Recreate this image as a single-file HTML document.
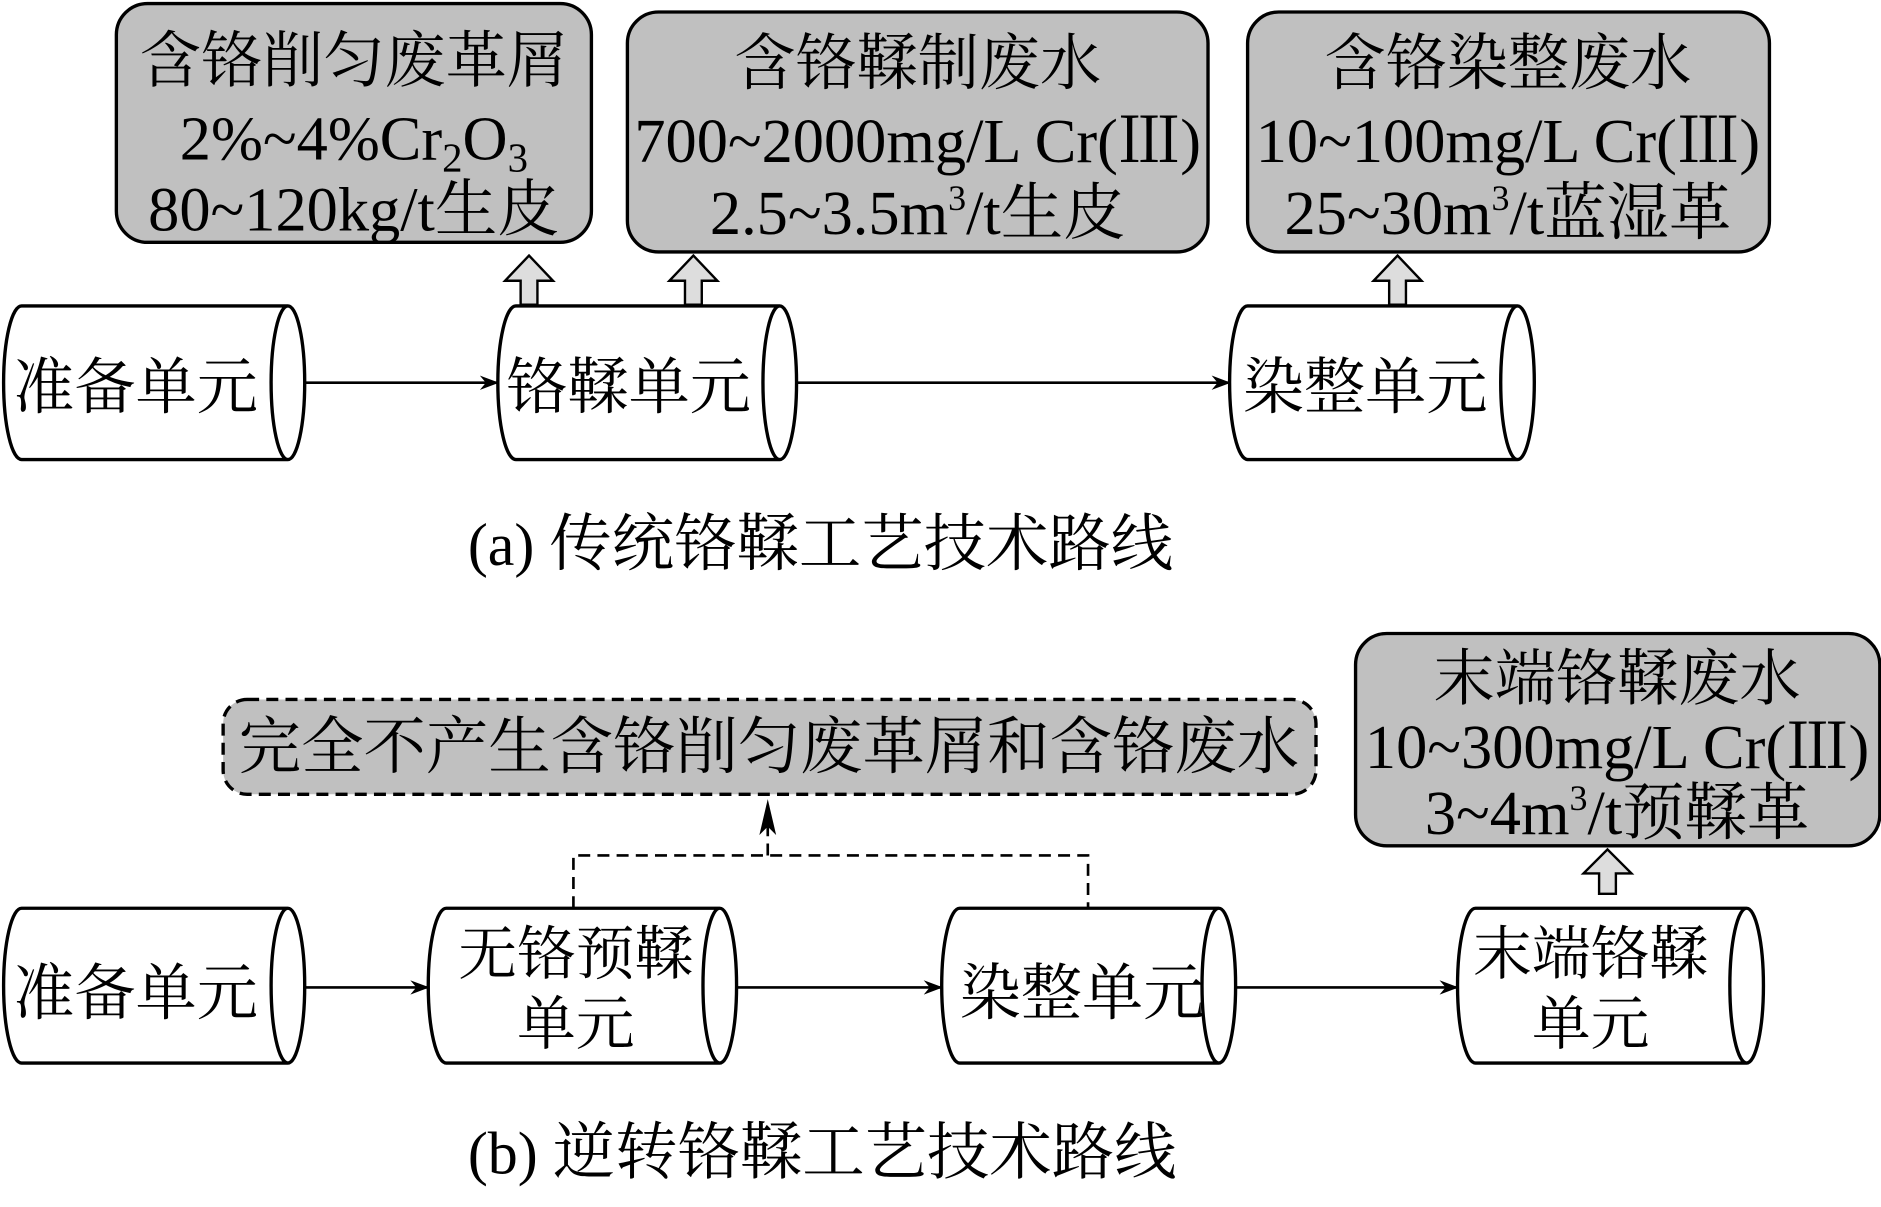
<!DOCTYPE html>
<html><head><meta charset="utf-8"><style>
html,body{margin:0;padding:0;background:#fff;}
svg{display:block;}
text{font-family:"Liberation Serif","Noto Serif CJK SC","Noto Sans CJK SC",serif;fill:#000;}
</style></head><body>
<svg width="1881" height="1207" viewBox="0 0 1568 1006" preserveAspectRatio="none" xmlns="http://www.w3.org/2000/svg">
<defs>
<marker id="ah" markerWidth="16" markerHeight="12" refX="15" refY="6" orient="auto" markerUnits="userSpaceOnUse">
<path d="M0,0 L16,6 L0,12 L5,6 Z" fill="#000"/>
</marker>
<marker id="ah2" markerWidth="30" markerHeight="16" refX="29" refY="8" orient="auto" markerUnits="userSpaceOnUse">
<path d="M0,1 L30,8 L0,15 L7,8 Z" fill="#000"/>
</marker>
</defs>
<g stroke="#000" stroke-width="2.8">
<rect x="97" y="3" width="396" height="199" rx="26" fill="#c0c0c0"/>
<rect x="523" y="10" width="484" height="200" rx="26" fill="#c0c0c0"/>
<rect x="1040" y="10" width="435" height="200" rx="26" fill="#c0c0c0"/>
<rect x="1130" y="528" width="437" height="177" rx="26" fill="#c0c0c0"/>
<rect x="186" y="583" width="911" height="79" rx="20" fill="#c0c0c0" stroke-dasharray="10,6"/>
<path d="M434,254 L434,234 L421,234 L441,213 L461,234 L448,234 L448,254 Z" fill="#ddd" stroke-width="2"/>
<path d="M571,254 L571,234 L558,234 L578,213 L598,234 L585,234 L585,254 Z" fill="#ddd" stroke-width="2"/>
<path d="M1158,254 L1158,234 L1145,234 L1165,213 L1185,234 L1172,234 L1172,254 Z" fill="#ddd" stroke-width="2"/>
<path d="M1333,745 L1333,728 L1320,728 L1340,708 L1360,728 L1347,728 L1347,745 Z" fill="#ddd" stroke-width="2"/>
<g fill="#fff">
<path d="M18,255 L240,255 M18,383 L240,383 M18,255 A15 64 0 0 0 18,383 M240,255 A14 64 0 0 1 240,383 A14 64 0 0 1 240,255" />
<path d="M430,255 L650,255 M430,383 L650,383 M430,255 A15 64 0 0 0 430,383 M650,255 A14 64 0 0 1 650,383 A14 64 0 0 1 650,255"/>
<path d="M1040,255 L1265,255 M1040,383 L1265,383 M1040,255 A15 64 0 0 0 1040,383 M1265,255 A14 64 0 0 1 1265,383 A14 64 0 0 1 1265,255"/>
<path d="M18,757 L240,757 M18,886 L240,886 M18,757 A15 64.5 0 0 0 18,886 M240,757 A14 64.5 0 0 1 240,886 A14 64.5 0 0 1 240,757"/>
<path d="M372,757 L600,757 M372,886 L600,886 M372,757 A15 64.5 0 0 0 372,886 M600,757 A14 64.5 0 0 1 600,886 A14 64.5 0 0 1 600,757"/>
<path d="M800,757 L1016,757 M800,886 L1016,886 M800,757 A15 64.5 0 0 0 800,886 M1016,757 A14 64.5 0 0 1 1016,886 A14 64.5 0 0 1 1016,757"/>
<path d="M1230,757 L1456,757 M1230,886 L1456,886 M1230,757 A15 64.5 0 0 0 1230,886 M1456,757 A14 64.5 0 0 1 1456,886 A14 64.5 0 0 1 1456,757"/>
</g>
<g fill="none" stroke-width="2.2">
<line x1="254" y1="319" x2="415" y2="319" marker-end="url(#ah)"/>
<line x1="664" y1="319" x2="1025" y2="319" marker-end="url(#ah)"/>
<line x1="254" y1="823" x2="357" y2="823" marker-end="url(#ah)"/>
<line x1="614" y1="823" x2="785" y2="823" marker-end="url(#ah)"/>
<line x1="1030" y1="823" x2="1215" y2="823" marker-end="url(#ah)"/>
<path d="M478,757 L478,713 L907,713 L907,757" stroke-dasharray="10,6"/>
<line x1="640" y1="713" x2="640" y2="667" stroke-dasharray="10,6" marker-end="url(#ah2)"/>
</g>
</g>
<g font-size="51" text-anchor="middle">
<text x="295" y="68">含铬削匀废革屑</text>
<text x="295" y="133" font-size="52">2%~4%Cr<tspan font-size="34" dy="10">2</tspan><tspan dy="-10">O</tspan><tspan font-size="34" dy="10">3</tspan></text>
<text x="295" y="192" font-size="52">80~120kg/t生皮</text>
<text x="765" y="70">含铬鞣制废水</text>
<text x="765" y="135" font-size="52">700~2000mg/L Cr(Ⅲ)</text>
<text x="765" y="195" font-size="52">2.5~3.5m<tspan font-size="30" dy="-20">3</tspan><tspan dy="20">/t生皮</tspan></text>
<text x="1257" y="70">含铬染整废水</text>
<text x="1257" y="135" font-size="52">10~100mg/L Cr(Ⅲ)</text>
<text x="1257" y="195" font-size="52">25~30m<tspan font-size="30" dy="-20">3</tspan><tspan dy="20">/t蓝湿革</tspan></text>
<text x="1348" y="583">末端铬鞣废水</text>
<text x="1348" y="640" font-size="52">10~300mg/L Cr(Ⅲ)</text>
<text x="1348" y="695" font-size="52">3~4m<tspan font-size="30" dy="-20">3</tspan><tspan dy="20">/t预鞣革</tspan></text>
<text x="641" y="640" font-size="52">完全不产生含铬削匀废革屑和含铬废水</text>
<text x="113" y="340">准备单元</text>
<text x="524" y="340">铬鞣单元</text>
<text x="1138" y="340">染整单元</text>
<text x="113" y="845">准备单元</text>
<text x="480" y="812" font-size="49">无铬预鞣</text>
<text x="480" y="870" font-size="49">单元</text>
<text x="902" y="845">染整单元</text>
<text x="1326" y="812" font-size="49">末端铬鞣</text>
<text x="1326" y="870" font-size="49">单元</text>
</g>
<g font-size="52">
<text x="390" y="471"><tspan font-size="50">(a) </tspan>传统铬鞣工艺技术路线</text>
<text x="390" y="978"><tspan font-size="50">(b) </tspan>逆转铬鞣工艺技术路线</text>
</g>
</svg>
</body></html>
